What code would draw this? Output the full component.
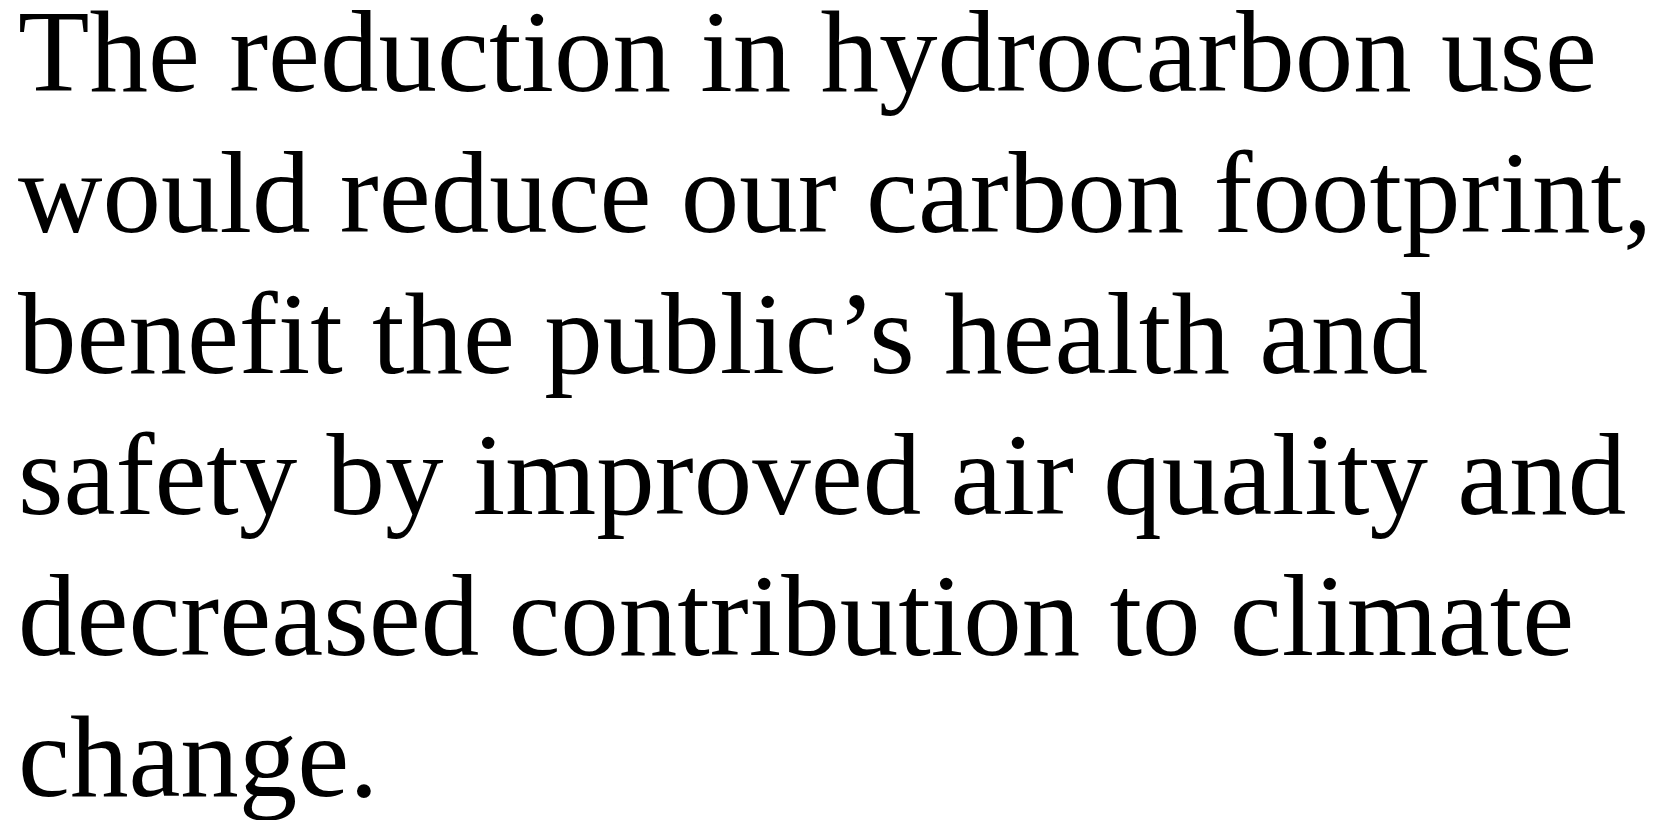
import React from "react";

const paragraph =
  "The reduction in hydrocarbon use would reduce our carbon footprint, benefit the public\u2019s health and safety by improved air quality and decreased contribution to climate change.";

export default function App() {
  return (
    <div
      style={{
        position: "absolute",
        left: 18,
        top: -19,
        width: 1650,
        fontFamily: "'Liberation Serif', 'Times New Roman', serif",
        fontSize: 117,
        lineHeight: "141px",
        color: "#000",
        margin: 0,
      }}
    >
      {paragraph}
    </div>
  );
}
